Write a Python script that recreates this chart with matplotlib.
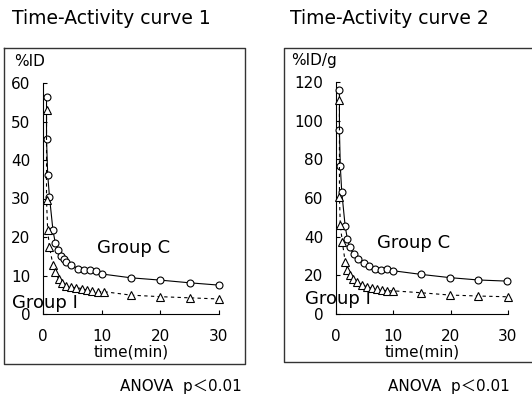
import matplotlib.pyplot as plt
from matplotlib.lines import Line2D

plt.rcParams['font.family'] = ['DejaVu Sans', 'Noto Sans CJK JP']

# time points (min)
t_c1 = [0.6, 0.6, 0.8, 1.1, 1.7, 2.1, 2.6, 3.1, 3.6, 4.0, 4.8, 6.0, 7.0, 8.0, 9.0, 10, 15, 20, 25, 30]
t_i1 = [0.6, 0.6, 0.8, 1.1, 1.7, 2.1, 2.7, 3.2, 3.9, 4.8, 5.7, 6.7, 7.5, 8.4, 9.3, 10.4, 15, 20, 25, 30]
# curve 1 : %ID
c1 = [56.4, 45.4, 36.2, 30.5, 21.7, 18.4, 16.5, 15.1, 14.3, 13.6, 12.7, 11.8, 11.3, 11.3, 11.1, 10.4, 9.4, 8.8, 8.1, 7.5]
i1 = [53.0, 29.5, 21.7, 17.5, 12.7, 10.8, 9.0, 8.0, 7.3, 7.0, 6.8, 6.6, 6.2, 6.0, 5.8, 5.8, 4.9, 4.5, 4.2, 3.9]

t_c2 = [0.6, 0.6, 0.75, 1.0, 1.6, 2.0, 2.4, 3.1, 3.9, 4.8, 5.8, 6.8, 7.8, 8.9, 9.9, 14.8, 19.9, 24.8, 29.9]
t_i2 = [0.6, 0.6, 0.75, 1.1, 1.6, 2.0, 2.4, 3.0, 3.7, 4.5, 5.4, 6.3, 7.2, 8.0, 8.9, 9.9, 14.8, 19.9, 24.8, 30]
# curve 2 : %ID/g
c2 = [116, 95, 76.4, 63.2, 45.4, 38.6, 34.4, 30.8, 28.6, 26.5, 24.8, 23.1, 22.7, 23.2, 22.4, 20.5, 18.8, 17.6, 17.0]
i2 = [110.5, 60.6, 46, 37.3, 27, 22.7, 20.1, 17.9, 16.7, 15.0, 14.1, 13.3, 12.7, 12.4, 12.0, 12.0, 11.0, 9.8, 9.3, 8.9]

W, H = 532, 400
fig = plt.figure(figsize=(W / 100, H / 100), dpi=100)


def fx(px):
    return px / W


def fy(py):
    return 1 - py / H


# outer frames
fig.add_artist(Line2D([fx(4), fx(245), fx(245), fx(4), fx(4)],
                      [fy(48), fy(48), fy(364), fy(364), fy(48)], color='#333333', lw=1))
fig.add_artist(Line2D([fx(532), fx(284), fx(284), fx(532)],
                      [fy(48), fy(48), fy(362), fy(362)], color='#333333', lw=1))

panels = [
    dict(rect=[fx(43), fy(314), fx(219 - 43), (314 - 83) / H], ymax=60, yticks=range(0, 61, 10),
         tc=t_c1, c=c1, ti=t_i1, i=i1, ylabel='%ID', title='Time-Activity curve 1', tx=12,
         ylab_xy=(14, 61), gc=(97, 248), gi=(12, 303), anova=(120, 386)),
    dict(rect=[fx(336), fy(314), fx(508 - 336), (314 - 82) / H], ymax=120, yticks=range(0, 121, 20),
         tc=t_c2, c=c2, ti=t_i2, i=i2, ylabel='%ID/g', title='Time-Activity curve 2', tx=290,
         ylab_xy=(291, 61), gc=(377, 243), gi=(305, 299), anova=(388, 386)),
]

for p in panels:
    ax = fig.add_axes(p['rect'])
    ax.plot(p['tc'], p['c'], '-', color='black', lw=0.8, marker='o', ms=5,
            mfc='white', mec='black', mew=0.8, clip_on=False, zorder=3)
    ax.plot(p['ti'], p['i'], '--', color='black', lw=0.8, dashes=(3, 3), marker='^', ms=5.5,
            mfc='white', mec='black', mew=0.8, clip_on=False, zorder=3)
    ax.set_xlim(0, 30)
    ax.set_ylim(0, p['ymax'])
    ax.set_xticks([0, 10, 20, 30])
    ax.set_yticks(list(p['yticks']))
    ax.spines['top'].set_visible(False)
    ax.spines['right'].set_visible(False)
    ax.tick_params(direction='in', length=3, width=0.8, labelsize=11)
    ax.tick_params(axis='x', pad=11)
    ax.tick_params(axis='y', pad=9)
    ax.set_xlabel('time(min)', fontsize=11, labelpad=0)
    fig.text(fx(p['ylab_xy'][0]), fy(p['ylab_xy'][1]), p['ylabel'], fontsize=11, va='center')
    fig.text(fx(p['tx']), fy(18), p['title'], fontsize=13.5, va='center')
    fig.text(fx(p['gc'][0]), fy(p['gc'][1]), 'Group C', fontsize=13, va='center')
    fig.text(fx(p['gi'][0]), fy(p['gi'][1]), 'Group I', fontsize=13, va='center')
    fig.text(fx(p['anova'][0]), fy(p['anova'][1]), 'ANOVA  p＜0.01', fontsize=11, va='center')

fig.savefig('out.png', dpi=100)
